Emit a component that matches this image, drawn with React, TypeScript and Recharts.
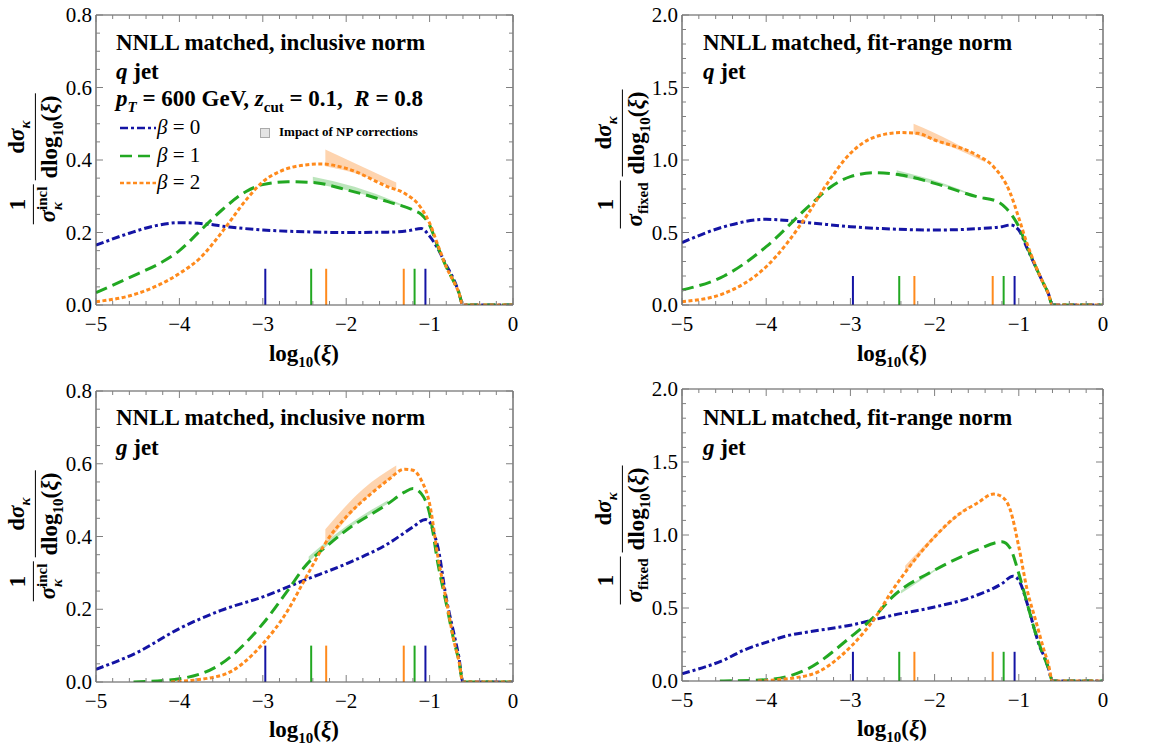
import React from 'react';
import { ComposedChart, Line, Area, XAxis, YAxis, ReferenceLine } from 'recharts';

const FONT = "'Liberation Serif', 'DejaVu Serif', serif";
const BLUE = '#1414a4';
const GREEN = '#22a822';
const ORANGE = '#ff8a1c';
const FRAME = '#505050';
const TICKC = '#808080';

// ---- tick labels ----
const X_MAJOR = [-5, -4, -3, -2, -1, 0];
const Y_MAJOR_INCL = [0, 0.2, 0.4, 0.6, 0.8];
const Y_MAJOR_FIXED = [0, 0.5, 1.0, 1.5, 2.0];

// ---- vertical marks (position, beta index) ----
const MARK_X = [-2.97, -2.42, -2.24, -1.31, -1.18, -1.05];
const MARK_BETA = [0, 1, 2, 2, 1, 0];

// ---- q jet, inclusive norm ----
const qIncl_b0 = [[-5, 0.165], [-4.6, 0.198], [-4.3, 0.218], [-4, 0.227], [-3.7, 0.224], [-3.4, 0.215], [-3, 0.207], [-2.5, 0.202], [-2, 0.2], [-1.5, 0.201], [-1.25, 0.205], [-1.1, 0.211], [-1.0, 0.19], [-0.9, 0.155], [-0.8, 0.11], [-0.7, 0.065], [-0.65, 0.035], [-0.6, 0], [0, 0]];
const qIncl_b1 = [[-5, 0.034], [-4.5, 0.086], [-4.25, 0.113], [-4, 0.15], [-3.75, 0.205], [-3.5, 0.26], [-3.2, 0.313], [-3, 0.332], [-2.7, 0.34], [-2.4, 0.338], [-2, 0.318], [-1.5, 0.285], [-1.2, 0.262], [-1.1, 0.25], [-1.0, 0.22], [-0.9, 0.16], [-0.8, 0.105], [-0.7, 0.06], [-0.65, 0.035], [-0.6, 0], [0, 0]];
const qIncl_b2 = [[-5, 0.009], [-4.5, 0.032], [-4, 0.087], [-3.75, 0.13], [-3.5, 0.198], [-3.2, 0.29], [-3, 0.34], [-2.8, 0.368], [-2.5, 0.386], [-2.3, 0.389], [-2, 0.377], [-1.5, 0.326], [-1.3, 0.308], [-1.1, 0.267], [-1.0, 0.226], [-0.9, 0.165], [-0.8, 0.105], [-0.7, 0.06], [-0.65, 0.035], [-0.6, 0], [0, 0]];
const qIncl_band1 = [[-2.4, 0.336, 0.354], [-1.9, 0.312, 0.326], [-1.4, 0.278, 0.284], [-1.2, 0.262, 0.265]];
const qIncl_band2 = [[-2.25, 0.383, 0.429], [-1.8, 0.357, 0.381], [-1.4, 0.318, 0.338]];

// ---- q jet, fit-range norm ----
const qFix_b0 = [[-5, 0.43], [-4.5, 0.54], [-4, 0.591], [-3.5, 0.568], [-3, 0.54], [-2.5, 0.524], [-2, 0.517], [-1.5, 0.526], [-1.2, 0.54], [-1.1, 0.552], [-1.0, 0.517], [-0.9, 0.39], [-0.8, 0.264], [-0.7, 0.14], [-0.65, 0.08], [-0.6, 0], [0, 0]];
const qFix_b1 = [[-5, 0.103], [-4.5, 0.2], [-4, 0.402], [-3.5, 0.678], [-3.2, 0.828], [-3, 0.885], [-2.7, 0.913], [-2.4, 0.897], [-2, 0.839], [-1.5, 0.747], [-1.25, 0.713], [-1.15, 0.667], [-1.0, 0.54], [-0.9, 0.4], [-0.8, 0.264], [-0.7, 0.14], [-0.65, 0.08], [-0.6, 0], [0, 0]];
const qFix_b2 = [[-5, 0.023], [-4.5, 0.08], [-4, 0.264], [-3.5, 0.632], [-3.3, 0.816], [-3, 1.046], [-2.7, 1.161], [-2.4, 1.189], [-2.2, 1.184], [-2, 1.138], [-1.5, 1.034], [-1.3, 0.954], [-1.1, 0.77], [-1.0, 0.6], [-0.9, 0.42], [-0.8, 0.27], [-0.7, 0.14], [-0.65, 0.08], [-0.6, 0], [0, 0]];
const qFix_band1 = [[-2.45, 0.89, 0.93], [-1.9, 0.82, 0.84], [-1.5, 0.745, 0.752]];
const qFix_band2 = [[-2.25, 1.18, 1.25], [-1.8, 1.09, 1.13], [-1.4, 0.985, 1.0]];

// ---- g jet, inclusive norm ----
const gIncl_b0 = [[-5, 0.035], [-4.5, 0.082], [-4, 0.147], [-3.5, 0.197], [-3, 0.234], [-2.5, 0.28], [-2, 0.325], [-1.5, 0.38], [-1.2, 0.426], [-1.05, 0.447], [-1.0, 0.44], [-0.95, 0.41], [-0.9, 0.37], [-0.8, 0.23], [-0.7, 0.124], [-0.65, 0.07], [-0.6, 0], [0, 0]];
const gIncl_b1 = [[-4.55, 0], [-4, 0.009], [-3.5, 0.05], [-3, 0.16], [-2.7, 0.252], [-2.5, 0.316], [-2.2, 0.38], [-2, 0.417], [-1.5, 0.49], [-1.3, 0.522], [-1.2, 0.532], [-1.1, 0.518], [-1.0, 0.463], [-0.9, 0.325], [-0.8, 0.215], [-0.7, 0.105], [-0.65, 0.06], [-0.6, 0], [0, 0]];
const gIncl_b2 = [[-4.1, 0], [-3.5, 0.018], [-3, 0.105], [-2.7, 0.197], [-2.5, 0.28], [-2.2, 0.399], [-2, 0.454], [-1.7, 0.518], [-1.5, 0.555], [-1.3, 0.585], [-1.2, 0.582], [-1.1, 0.555], [-1.0, 0.49], [-0.9, 0.344], [-0.8, 0.225], [-0.7, 0.105], [-0.65, 0.06], [-0.6, 0], [0, 0]];
const gIncl_band1 = [[-2.45, 0.33, 0.345], [-2.0, 0.417, 0.428], [-1.5, 0.49, 0.5]];
const gIncl_band2 = [[-2.25, 0.375, 0.42], [-1.8, 0.497, 0.53], [-1.4, 0.572, 0.595]];

// ---- g jet, fit-range norm ----
const gFix_b0 = [[-5, 0.05], [-4.5, 0.145], [-4.25, 0.215], [-4, 0.265], [-3.75, 0.31], [-3.5, 0.336], [-3, 0.382], [-2.5, 0.45], [-2, 0.507], [-1.5, 0.587], [-1.2, 0.667], [-1.07, 0.718], [-1.0, 0.69], [-0.9, 0.53], [-0.8, 0.325], [-0.75, 0.233], [-0.7, 0.17], [-0.65, 0.09], [-0.6, 0], [0, 0]];
const gFix_b1 = [[-4.55, 0], [-4, 0.009], [-3.5, 0.085], [-3, 0.3], [-2.7, 0.45], [-2.5, 0.576], [-2, 0.759], [-1.5, 0.896], [-1.2, 0.953], [-1.1, 0.907], [-1.0, 0.736], [-0.9, 0.53], [-0.8, 0.325], [-0.7, 0.165], [-0.65, 0.09], [-0.6, 0], [0, 0]];
const gFix_b2 = [[-4.1, 0], [-3.5, 0.039], [-3, 0.233], [-2.7, 0.439], [-2.5, 0.622], [-2.3, 0.782], [-2, 0.987], [-1.7, 1.147], [-1.5, 1.216], [-1.3, 1.28], [-1.2, 1.262], [-1.1, 1.17], [-1.0, 0.919], [-0.9, 0.622], [-0.8, 0.416], [-0.7, 0.21], [-0.65, 0.119], [-0.6, 0], [0, 0]];
const gFix_band1 = [[-2.4, 0.6, 0.62], [-1.9, 0.79, 0.8]];
const gFix_band2 = [[-2.35, 0.74, 0.79], [-2.0, 0.975, 1.0], [-1.6, 1.19, 1.2]];

const COLORS = [BLUE, GREEN, ORANGE];
const DASHES = ['8 3 3 3', '12 6', '4 2.5'];
const BAND_FILL = ['#9aa0e0', '#8fd48f', '#fdb77a'];

const toPts = (arr: number[][]) => arr.map(([x, y]) => ({ x, y }));
const toBand = (arr: number[][]) => arr.map(([x, lo, hi]) => ({ x, r: [lo, hi] }));

const minorTicks = (lo: number, hi: number, step: number) => {
  const out: number[] = [];
  const n = Math.round((hi - lo) / step);
  for (let i = 0; i <= n; i++) out.push(Math.round((lo + i * step) * 1000) / 1000);
  return out;
};

const isMajor = (v: number, majors: number[]) => majors.some((m) => Math.abs(m - v) < 1e-6);
const fmtX = (v: number) => (v < 0 ? '\u2212' + Math.abs(v) : String(v));

const XTick = (side: 'bottom' | 'top') => (props: any) => {
  const { x, y, payload } = props;
  const v = payload.value;
  const maj = isMajor(v, X_MAJOR);
  const len = maj ? 7 : 4;
  const dir = side === 'bottom' ? -1 : 1;
  return (
    <g>
      <line x1={x} x2={x} y1={y} y2={y + dir * len} stroke={TICKC} strokeWidth={1} />
      {side === 'bottom' && maj && (
        <text x={x} y={y + 19} textAnchor="middle" dominantBaseline="central" style={{ fontFamily: FONT }} fontSize={21} fill="#000">
          {fmtX(v)}
        </text>
      )}
    </g>
  );
};

const YTick = (side: 'left' | 'right', majors: number[]) => (props: any) => {
  const { x, y, payload } = props;
  const v = payload.value;
  const maj = isMajor(v, majors);
  const len = maj ? 7 : 4;
  const dir = side === 'left' ? 1 : -1;
  return (
    <g>
      <line x1={x} x2={x + dir * len} y1={y} y2={y} stroke={TICKC} strokeWidth={1} />
      {side === 'left' && maj && (
        <text x={x - 4} y={y} textAnchor="end" dominantBaseline="central" style={{ fontFamily: FONT }} fontSize={21} fill="#000">
          {v.toFixed(1)}
        </text>
      )}
    </g>
  );
};

type PanelProps = {
  left: number;
  top: number;
  height: number;
  margin: { top: number; left: number; right: number; bottom: number };
  yMax: number;
  yMajor: number[];
  yStep: number;
  curves: number[][][];
  bands: number[][][];
  markH: number;
};

const Panel = ({ left, top, height, margin, yMax, yMajor, yStep, curves, bands, markH }: PanelProps) => {
  const xTicks = minorTicks(-5, 0, 0.2);
  const yTicks = minorTicks(0, yMax, yStep);
  return (
    <div style={{ position: 'absolute', left, top }}>
      <ComposedChart width={540} height={height} margin={margin}>
        <XAxis dataKey="x" type="number" domain={[-5, 0]} ticks={xTicks} interval={0} height={60}
          tickSize={0} tickMargin={0} tickLine={false} axisLine={{ stroke: FRAME, strokeWidth: 1.2 }} tick={XTick('bottom')} allowDataOverflow />
        <XAxis xAxisId="top" orientation="top" dataKey="x" type="number" domain={[-5, 0]} ticks={xTicks} interval={0} height={1}
          tickSize={0} tickMargin={0} tickLine={false} axisLine={{ stroke: FRAME, strokeWidth: 1.2 }} tick={XTick('top')} allowDataOverflow />
        <YAxis type="number" domain={[0, yMax]} ticks={yTicks} interval={0} width={46}
          tickSize={0} tickMargin={0} tickLine={false} axisLine={{ stroke: FRAME, strokeWidth: 1.2 }} tick={YTick('left', yMajor)} allowDataOverflow />
        <YAxis yAxisId="right" orientation="right" type="number" domain={[0, yMax]} ticks={yTicks} interval={0} width={1}
          tickSize={0} tickMargin={0} tickLine={false} axisLine={{ stroke: FRAME, strokeWidth: 1.2 }} tick={YTick('right', yMajor)} allowDataOverflow />
        {MARK_X.map((mx, i) => (
          <ReferenceLine key={'m' + i} segment={[{ x: mx, y: 0 }, { x: mx, y: markH }]} stroke={COLORS[MARK_BETA[i]]} strokeWidth={2} />
        ))}
        {curves.map((c, i) => (
          <Line key={'c' + i} data={toPts(c)} dataKey="y" type="monotone" stroke={COLORS[i]} strokeWidth={3}
            strokeDasharray={DASHES[i]} dot={false} activeDot={false} isAnimationActive={false} />
        ))}
        {bands.map((b, i) => (
          <Area key={'b' + i} data={toBand(b)} dataKey="r" type="monotone" stroke="none" fill={BAND_FILL[i + 1]}
            fillOpacity={0.6} isAnimationActive={false} />
        ))}
      </ComposedChart>
    </div>
  );
};

const Frac = ({ num, den }: { num: React.ReactNode; den: React.ReactNode }) => (
  <span style={{ display: 'inline-flex', flexDirection: 'column', alignItems: 'center', verticalAlign: 'middle', margin: '0 2px' }}>
    <span style={{ padding: '0 2px 2px', lineHeight: 1.1 }}>{num}</span>
    <span style={{ borderTop: '1.6px solid #000', padding: '1px 2px 0', lineHeight: 1.1, whiteSpace: 'nowrap' }}>{den}</span>
  </span>
);

const YLabel = ({ cx, cy, incl }: { cx: number; cy: number; incl: boolean }) => (
  <div style={{ position: 'absolute', left: cx, top: cy, transform: 'translate(-50%, -50%) rotate(-90deg)', fontFamily: FONT, fontWeight: 'bold', fontSize: 23, whiteSpace: 'nowrap', display: 'flex', alignItems: 'center' }}>
    <Frac num="1" den={incl ? (
      <span>
        <i>σ</i>
        <span style={{ display: 'inline-flex', flexDirection: 'column', fontSize: 15, lineHeight: 1, verticalAlign: 'middle' }}>
          <span>incl</span>
          <i>κ</i>
        </span>
      </span>
    ) : (
      <span><i>σ</i><sub style={{ fontSize: 15 }}>fixed</sub></span>
    )} />
    <Frac num={<span>d<i>σ</i><sub style={{ fontSize: 15 }}><i>κ</i></sub></span>} den={<span>dlog<sub style={{ fontSize: 15 }}>10</sub>(<i>ξ</i>)</span>} />
  </div>
);

const XLabel = ({ cx, cy }: { cx: number; cy: number }) => (
  <div style={{ position: 'absolute', left: cx, top: cy, transform: 'translate(-50%, -50%)', fontFamily: FONT, fontWeight: 'bold', fontSize: 23, whiteSpace: 'nowrap' }}>
    log<sub style={{ fontSize: 15 }}>10</sub>(<i>ξ</i>)
  </div>
);

const TextAt = ({ x, cy, size, children, bold = true }: { x: number; cy: number; size: number; children: React.ReactNode; bold?: boolean }) => (
  <div style={{ position: 'absolute', left: x, top: cy, transform: 'translateY(-50%)', fontFamily: FONT, fontWeight: bold ? 'bold' : 'normal', fontSize: size, whiteSpace: 'nowrap', lineHeight: 1.1 }}>
    {children}
  </div>
);

const LEGEND_LABELS = ['0', '1', '2'];
const LEGEND_Y = [128, 156, 183];

export default function App() {
  return (
    <div style={{ position: 'absolute', left: 0, top: 0, width: 1175, height: 746, background: '#fff', overflow: 'hidden', fontFamily: FONT }}>
      <Panel left={0} top={0} height={370} margin={{ top: 14, left: 50, right: 26, bottom: 5 }} yMax={0.8} yMajor={Y_MAJOR_INCL} yStep={0.05}
        curves={[qIncl_b0, qIncl_b1, qIncl_b2]} bands={[qIncl_band1, qIncl_band2]} markH={0.1} />
      <Panel left={590} top={0} height={370} margin={{ top: 14, left: 46, right: 26, bottom: 5 }} yMax={2.0} yMajor={Y_MAJOR_FIXED} yStep={0.1}
        curves={[qFix_b0, qFix_b1, qFix_b2]} bands={[qFix_band1, qFix_band2]} markH={0.2} />
      <Panel left={0} top={370} height={376} margin={{ top: 20, left: 50, right: 26, bottom: 4 }} yMax={0.8} yMajor={Y_MAJOR_INCL} yStep={0.05}
        curves={[gIncl_b0, gIncl_b1, gIncl_b2]} bands={[gIncl_band1, gIncl_band2]} markH={0.1} />
      <Panel left={590} top={370} height={376} margin={{ top: 18, left: 46, right: 26, bottom: 5 }} yMax={2.0} yMajor={Y_MAJOR_FIXED} yStep={0.1}
        curves={[gFix_b0, gFix_b1, gFix_b2]} bands={[gFix_band1, gFix_band2]} markH={0.2} />

      <YLabel cx={35} cy={159} incl={true} />
      <YLabel cx={622} cy={159} incl={false} />
      <YLabel cx={35} cy={536} incl={true} />
      <YLabel cx={622} cy={535} incl={false} />

      <XLabel cx={304} cy={356} />
      <XLabel cx={892} cy={356} />
      <XLabel cx={304} cy={732} />
      <XLabel cx={892} cy={731} />

      <TextAt x={116} cy={43} size={23}>NNLL matched, inclusive norm</TextAt>
      <TextAt x={116} cy={72} size={23}><i>q</i> jet</TextAt>
      <TextAt x={116} cy={101} size={23}>
        <i>p</i><sub style={{ fontSize: 15 }}><i>T</i></sub> = 600 GeV, <i>z</i><sub style={{ fontSize: 15 }}>cut</sub> = 0.1,&nbsp; <i>R</i> = 0.8
      </TextAt>
      {LEGEND_LABELS.map((lab, i) => (
        <React.Fragment key={lab}>
          <svg style={{ position: 'absolute', left: 120, top: LEGEND_Y[i] - 3 }} width={36} height={6}>
            <line x1={0} x2={36} y1={3} y2={3} stroke={COLORS[i]} strokeWidth={2.5} strokeDasharray={DASHES[i]} />
          </svg>
          <TextAt x={157} cy={LEGEND_Y[i]} size={21} bold={false}><i>β</i> = {lab}</TextAt>
        </React.Fragment>
      ))}
      <div style={{ position: 'absolute', left: 260, top: 128, width: 8, height: 8, background: '#e4e4e4', border: '1px solid #aaa' }} />
      <TextAt x={279} cy={132} size={13}>Impact of NP corrections</TextAt>

      <TextAt x={703} cy={43} size={23}>NNLL matched, fit-range norm</TextAt>
      <TextAt x={703} cy={72} size={23}><i>q</i> jet</TextAt>

      <TextAt x={116} cy={418} size={23}>NNLL matched, inclusive norm</TextAt>
      <TextAt x={116} cy={448} size={23}><i>g</i> jet</TextAt>

      <TextAt x={703} cy={418} size={23}>NNLL matched, fit-range norm</TextAt>
      <TextAt x={703} cy={448} size={23}><i>g</i> jet</TextAt>
    </div>
  );
}
